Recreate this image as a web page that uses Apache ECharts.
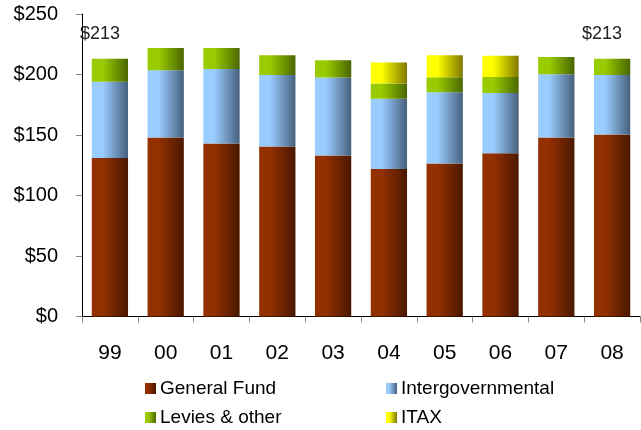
<!DOCTYPE html>
<html>
<head>
<meta charset="utf-8">
<script src="https://cdn.jsdelivr.net/npm/echarts@6/dist/echarts.min.js"></script>
<style>
  html, body { margin: 0; padding: 0; background: #fff; }
  #chart { width: 641px; height: 430px; }
</style>
</head>
<body>
<div id="chart"></div>
<script>
var years = ["99", "00", "01", "02", "03", "04", "05", "06", "07", "08"];
var generalFund = [131, 148, 143, 140.5, 133, 122, 126.5, 135, 148, 150.5];
var intergov = [63, 55.5, 61.5, 59, 64.5, 58, 58.8, 49.8, 52.2, 49];
var levies = [19, 18.3, 17.3, 16.5, 14.2, 12.5, 12.5, 13.2, 14.2, 13.5];
var itax = [0, 0, 0, 0, 0, 17.4, 18.2, 17.4, 0, 0];
var totalLabels = ["$213", "", "", "", "", "", "", "", "", "$213"];

var font = "Liberation Sans, Arial, sans-serif";

function grad(light, dark) {
  return new echarts.graphic.LinearGradient(0, 0, 1, 0, [
    { offset: 0, color: light },
    { offset: 0.3, color: light },
    { offset: 1, color: dark }
  ]);
}

var colors = {
  "General Fund": grad("#933000", "#4a1800"),
  "Intergovernmental": grad("#99ccff", "#46607c"),
  "Levies & other": grad("#99cc00", "#4a6600"),
  "ITAX": grad("#ffff00", "#7f7800")
};

function bar(name, data) {
  return {
    name: name,
    type: "bar",
    stack: "total",
    barWidth: "65%",
    animation: false,
    itemStyle: { color: colors[name] },
    data: data
  };
}

var leviesSeries = bar("Levies & other", levies);
leviesSeries.label = {
  show: true,
  position: "top",
  distance: 16,
  offset: [-10, 0],
  color: "#222",
  fontSize: 18,
  fontFamily: font,
  formatter: function (p) { return totalLabels[p.dataIndex]; }
};

function legendItem(name, left, top) {
  return {
    data: [name],
    left: left,
    top: top,
    itemWidth: 11,
    itemHeight: 11,
    itemGap: 0,
    padding: 0,
    icon: "rect",
    textStyle: { fontSize: 19, fontFamily: font, color: "#000", padding: [0, 0, 0, -1] }
  };
}

var chart = echarts.init(document.getElementById("chart"));
chart.setOption({
  backgroundColor: "#fff",
  grid: { left: 82, right: 1, top: 14, bottom: 113.5 },
  legend: [
    legendItem("General Fund", 145, 379),
    legendItem("Intergovernmental", 386, 379),
    legendItem("Levies & other", 145, 408),
    legendItem("ITAX", 386, 408)
  ],
  xAxis: {
    type: "category",
    data: years,
    axisLine: { lineStyle: { color: "#000", width: 1 } },
    axisTick: { show: true, length: 6, lineStyle: { color: "#888" } },
    axisLabel: { margin: 26, fontSize: 21, fontFamily: font, color: "#000" }
  },
  yAxis: {
    type: "value",
    min: 0,
    max: 250,
    interval: 50,
    axisLine: { show: true, lineStyle: { color: "#000", width: 1 } },
    axisTick: { show: true, length: 6, lineStyle: { color: "#888" } },
    splitLine: { show: false },
    axisLabel: {
      margin: 24,
      fontSize: 20,
      fontFamily: font,
      color: "#000",
      formatter: "${value}"
    }
  },
  series: [
    bar("General Fund", generalFund),
    bar("Intergovernmental", intergov),
    leviesSeries,
    bar("ITAX", itax)
  ]
});
</script>
</body>
</html>
